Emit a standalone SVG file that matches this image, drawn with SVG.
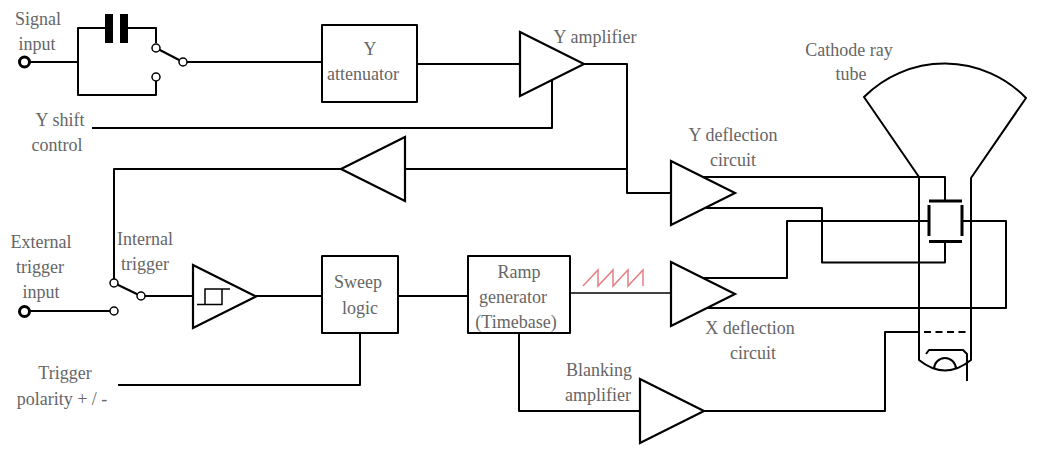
<svg xmlns="http://www.w3.org/2000/svg" width="1039" height="455" viewBox="0 0 1039 455">
<style>
text{font-family:"Liberation Serif","Times New Roman",serif;font-size:18px;fill:#666;text-anchor:middle}
.l,.b,.t{fill:none;stroke:#000;stroke-width:2;stroke-linejoin:round}
.b{fill:#fff}
.t{fill:#fff;stroke-width:2.200;stroke-linejoin:miter}
.c{fill:#fff;stroke:#000;stroke-width:1.5}
.p{fill:#000;stroke:none}
.h{fill:none;stroke:#000;stroke-width:3}
</style>
<rect width="1039" height="455" fill="#fff"/>
<g id="connectors">
<path class="l" d="M25 62H78M105 28H78V95H156V81M128 28H156V43M183 62H322M417 64H520M584 64H627V193H671M627 169H405M341 169H114V279M92 128H552V80"/>
<path class="l" d="M110 311H30"/>
<path class="l" d="M141 296H193M256 296H322M398 296H468M360 333V385H118M519 334V411H640M703 411H885V332H919"/>
<path fill="none" stroke="#000" stroke-width="1.700" d="M570 293H671"/>
<path class="l" d="M703 177H945V201M706 208H822V262.500H945V242M703 278H787V221H929M962 221H1006V308H706"/>
<path fill="none" stroke="#e57f85" stroke-width="1.500" d="M583 286L598 270V286L613 270V286L628 270V286L643 270V286"/>
</g>
<g id="signal-input">
<circle cx="24.500" cy="62" r="5" fill="#fff" stroke="#000" stroke-width="3"/>
<text x="38" y="25">Signal</text><text x="37" y="50">input</text>
</g>
<g id="coupling-capacitor">
<rect class="p" x="105" y="14" width="8" height="29"/><rect class="p" x="120" y="14" width="8" height="29"/>
</g>
<g id="input-switch">
<path class="l" d="M156 48L183 62"/>
<circle class="c" cx="156" cy="48" r="4"/><circle class="c" cx="156" cy="77" r="4"/><circle class="c" cx="183" cy="62" r="4"/>
</g>
<g id="y-attenuator">
<rect class="b" x="322" y="25" width="95" height="77"/>
<text x="370" y="55">Y</text><text x="363" y="80">attenuator</text>
</g>
<g id="y-amplifier">
<path class="t" d="M520 32L584 64L520 96Z"/>
<text x="595" y="43">Y amplifier</text>
</g>
<g id="y-shift"><text x="60" y="126">Y shift</text><text x="57" y="151">control</text></g>
<g id="feedback-amplifier"><path class="t" d="M405 137L341 169L405 201Z"/></g>
<g id="y-deflection-circuit">
<path class="t" d="M671 161L735 193L671 225Z"/>
<text x="733" y="141">Y deflection</text><text x="733" y="166">circuit</text>
</g>
<g id="external-trigger">
<circle cx="24.500" cy="311.500" r="5" fill="#fff" stroke="#000" stroke-width="3"/>
<text x="41" y="248">External</text><text x="40" y="273">trigger</text><text x="41" y="298">input</text>
</g>
<g id="trigger-switch">
<path class="l" d="M114 283L141 296"/>
<circle class="c" cx="114" cy="283" r="4"/><circle class="c" cx="114" cy="311" r="4"/><circle class="c" cx="141" cy="296" r="4"/>
<text x="145" y="245">Internal</text><text x="145" y="270">trigger</text>
</g>
<g id="schmitt-trigger">
<path class="t" d="M193 265L256 296.500L193 328Z"/>
<path fill="none" stroke="#000" stroke-width="1.500" d="M197 304.500H205V289H230M205 304.500H222V289"/>
</g>
<g id="sweep-logic">
<rect class="b" x="322" y="256" width="76" height="77"/>
<text x="358" y="288">Sweep</text><text x="360" y="314">logic</text>
</g>
<g id="ramp-generator">
<rect class="b" x="468" y="256" width="102" height="77"/>
<text x="519" y="278">Ramp</text><text x="513" y="303">generator</text><text x="516" y="328">(Timebase)</text>
</g>
<g id="x-deflection-circuit">
<path class="t" d="M671 262L735 294L671 326Z"/>
<text x="750" y="334">X deflection</text><text x="753" y="359">circuit</text>
</g>
<g id="trigger-polarity"><text x="65" y="379">Trigger</text><text x="62" y="405">polarity + / -</text></g>
<g id="blanking-amplifier">
<path class="t" d="M640 379L704 411L640 443Z"/>
<text x="599" y="376">Blanking</text><text x="598" y="401">amplifier</text>
</g>
<g id="crt">
<path class="l" d="M919 177L864 97A113.500 113.500 0 0 1 1026 98L971 178V360Q945 381 919 360Z"/>
<path fill="none" stroke="#000" stroke-width="2" stroke-dasharray="7 4.500" d="M924 332H971"/>
<path class="l" d="M926 354L929 350H963L967 354V381M934 369A11 11 0 0 1 956 369"/>
<path class="h" d="M929 201H962M929 241.500H962M929 205V236M962 205V236"/>
<text x="849" y="56">Cathode ray</text><text x="851" y="80">tube</text>
</g>
</svg>
